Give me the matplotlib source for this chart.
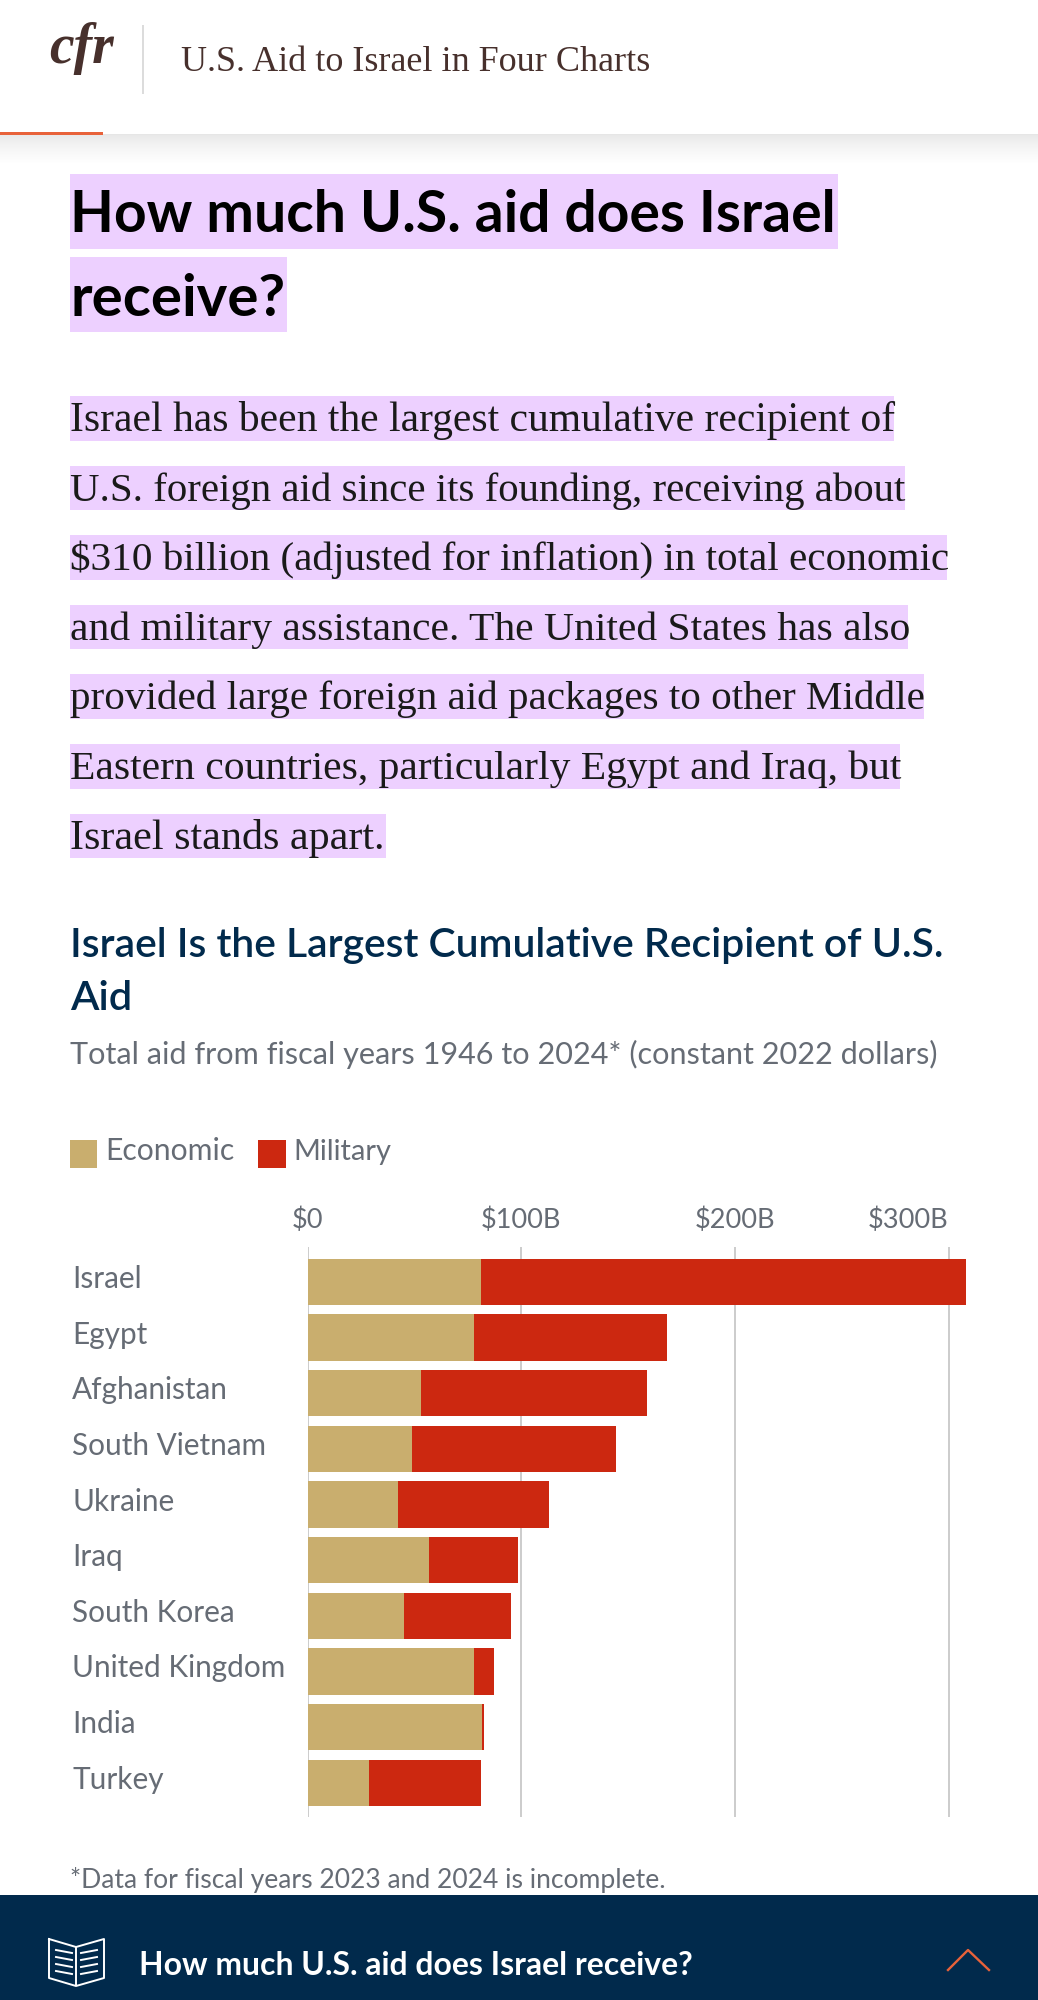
import matplotlib
matplotlib.use("Agg")
import matplotlib.pyplot as plt
import numpy as np
from matplotlib.patches import Rectangle

countries = ["Israel", "Egypt", "Afghanistan", "South Vietnam", "Ukraine", "Iraq",
             "South Korea", "United Kingdom", "India", "Turkey"]
economic = [80.9, 77.8, 53.0, 48.9, 42.4, 56.7, 44.9, 77.8, 81.6, 28.8]
military = [227.4, 90.2, 105.7, 95.5, 70.6, 41.8, 50.2, 9.6, 1.0, 52.1]
tick_values = [0, 100, 200, 300]
tick_labels = ["$0", "$100B", "$200B", "$300B"]

body_lines = [
    "Israel has been the largest cumulative recipient of",
    "U.S. foreign aid since its founding, receiving about",
    "$310 billion (adjusted for inflation) in total economic",
    "and military assistance. The United States has also",
    "provided large foreign aid packages to other Middle",
    "Eastern countries, particularly Egypt and Iraq, but",
    "Israel stands apart.",
]
body_right = [894, 905, 947, 908, 924, 900, 386]

SANS = "Lato"
SERIF = "Liberation Serif"
GREY = "#666c75"
NAVY = "#012a4c"
TAN = "#c9ae6e"
RED = "#cc2810"
LILAC = "#edd0ff"
ORANGE = "#e8623a"
BROWN = "#47302c"

W, H = 1038, 2000
fig = plt.figure(figsize=(W / 100, H / 100), dpi=100, facecolor="white")
page = fig.add_axes([0, 0, 1, 1])
page.set_xlim(0, W)
page.set_ylim(H, 0)
page.axis("off")


def fit_text(x, y, s, right, size, **kw):
    # scale the font so the string ends where it does in the reference
    t = page.text(x, y, s, fontsize=size, va="baseline", **kw)
    ext = t.get_window_extent(fig.canvas.get_renderer())
    t.set_fontsize(size * (right - x) / ext.width)
    return t


def band(x0, x1, y0, y1, color=LILAC, z=1):
    page.add_patch(Rectangle((x0, y0), x1 - x0, y1 - y0, color=color, lw=0, zorder=z))


# header
shade = np.linspace(0, 1, 30) ** 0.7
shade = np.stack([shade] * 3, axis=1).reshape(-1, 1, 3) * (1 - 0.905) + 0.905
page.imshow(shade, extent=(0, W, 164, 134), aspect="auto", zorder=0)
page.set_xlim(0, W)
page.set_ylim(H, 0)
band(0, 103, 132, 135, ORANGE, 2)
band(142, 144, 25, 94, "#dcdcdc", 2)
page.text(49, 63, "cfr", fontsize=40, family=SERIF, style="italic", weight="bold", color=BROWN)
fit_text(181, 71, "U.S. Aid to Israel in Four Charts", 652, 24, family=SERIF, color=BROWN)

# heading
band(70, 838, 174, 249)
band(70, 287, 257, 332)
fit_text(70, 232, "How much U.S. aid does Israel", 835, 38, family=SANS, weight="bold", color="black", zorder=3)
fit_text(70, 316, "receive?", 285, 38, family=SANS, weight="bold", color="black", zorder=3)

# body copy
for i, (line, right) in enumerate(zip(body_lines, body_right)):
    top = 396 + i * 69.6
    band(70, right, top, top + 44.5)
    fit_text(70, top + 35, line, right - 1, 27, family=SERIF, color="#1a1a1a", zorder=3)

# chart heading
fit_text(70, 957, "Israel Is the Largest Cumulative Recipient of U.S.", 945, 26,
         family=SANS, weight="semibold", color=NAVY)
fit_text(70, 1010, "Aid", 132, 26, family=SANS, weight="semibold", color=NAVY)
fit_text(70, 1064, "Total aid from fiscal years 1946 to 2024* (constant 2022 dollars)", 941, 23,
         family=SANS, color=GREY)

# legend
band(70, 97, 1140, 1168, TAN)
band(258, 286, 1140, 1168, RED)
fit_text(105, 1160, "Economic", 234, 21, family=SANS, color=GREY)
fit_text(293, 1160, "Military", 391, 21, family=SANS, color=GREY)

# footnote and bottom bar
fit_text(70, 1888, "*Data for fiscal years 2023 and 2024 is incomplete.", 667, 20,
         family=SANS, color=GREY, zorder=1)
band(0, W, 1895, H, NAVY, 5)
fit_text(139, 1975, "How much U.S. aid does Israel receive?", 692, 21,
         family=SANS, weight="bold", color="white", zorder=6)
page.plot([948, 968, 989], [1970, 1950, 1970], color=ORANGE, lw=1.7, zorder=6)

# book icon
page.plot([49, 76, 104, 104, 76, 49, 49], [1939, 1947, 1939, 1978, 1986, 1978, 1939],
          color="white", lw=1.4, zorder=6)
page.plot([76, 76], [1947, 1985], color="white", lw=1.4, zorder=6)
for row in [1950, 1957, 1964, 1971]:
    page.plot([56, 72], [row, row + 3], color="white", lw=1.4, zorder=6)
    page.plot([81, 97], [row + 3, row], color="white", lw=1.4, zorder=6)

# chart, placed so that its scale lands on the reference pixels
x0_px, top_px, bottom_px = 307.7, 1246.7, 1817
px_per_unit = 2.136
row_px = 55.63
first_row_px = 1282
ax = fig.add_axes([x0_px / W, 1 - bottom_px / H, (W - x0_px) / W, (bottom_px - top_px) / H])
ax.patch.set_alpha(0)
y = np.arange(len(countries))
ax.barh(y, economic, height=0.832, color=TAN, zorder=2)
ax.barh(y, military, left=economic, height=0.832, color=RED, zorder=2)
ax.set_xlim(0, (W - x0_px) / px_per_unit)
ax.set_ylim((bottom_px - first_row_px) / row_px, (top_px - first_row_px) / row_px)
for side in ax.spines.values():
    side.set_visible(False)
ax.grid(True, axis="x", color="#c8c8c8", lw=1.3, zorder=1)
ax.set_axisbelow(True)
ax.xaxis.tick_top()
ax.set_xticks(tick_values)
ax.set_xticklabels(tick_labels, fontsize=19.5, family=SANS, color=GREY)
ax.get_xticklabels()[-1].set_ha("right")
ax.set_yticks([])
ax.tick_params(axis="x", length=0, pad=10)
for i, name in enumerate(countries):
    ax.annotate(name, (0, i), xytext=(-(x0_px - 72) * 0.72, -6 * 0.72), textcoords="offset points",
                fontsize=21.4, family=SANS, color=GREY, ha="left", va="baseline",
                annotation_clip=False)

fig.savefig("out.png", dpi=100)
